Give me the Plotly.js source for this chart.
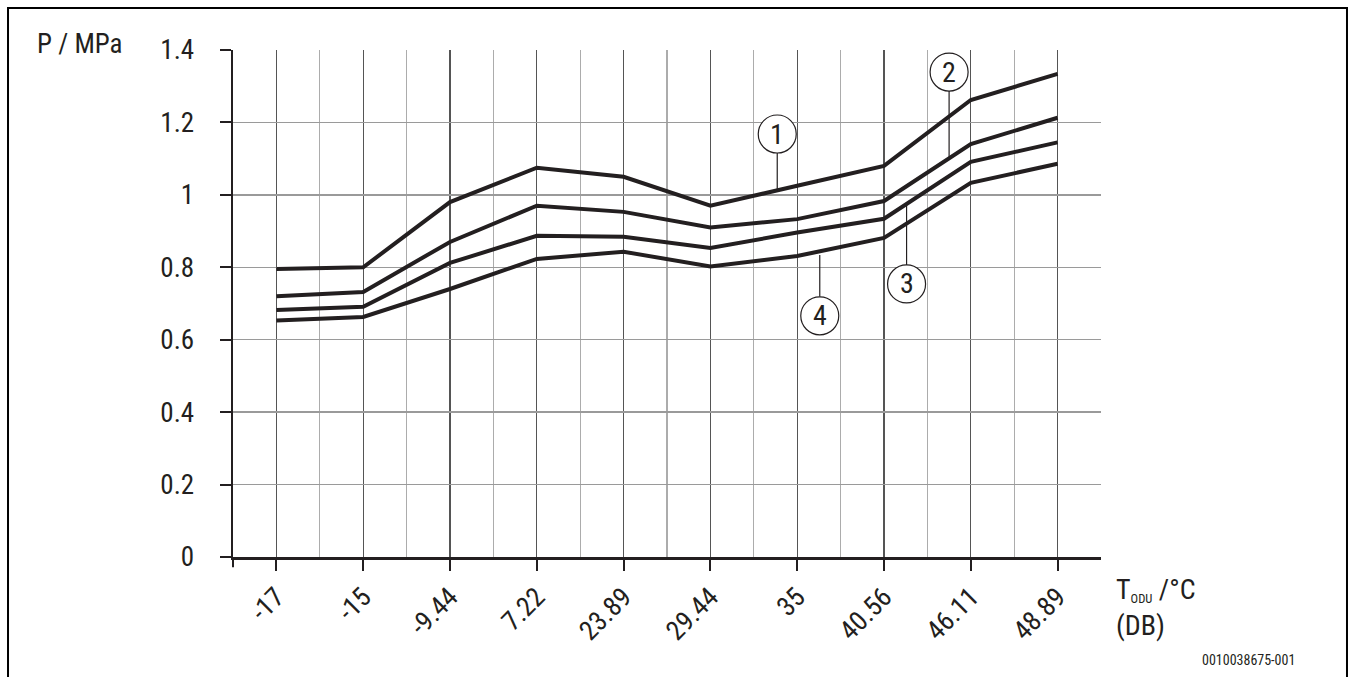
<!DOCTYPE html>
<html>
<head>
<meta charset="utf-8">
<script src="https://cdn.plot.ly/plotly-3.0.1.min.js"></script>
<style>html,body{margin:0;padding:0;background:#fff;}#chart{width:1356px;height:677px;}</style>
</head>
<body>
<div id="chart"></div>
<script>
// Outdoor temperature categories (°C, DB)
const categories = ["-17", "-15", "-9.44", "7.22", "23.89", "29.44", "35", "40.56", "46.11", "48.89"];
// Pressure curves (MPa)
const curve1 = [0.795, 0.800, 0.980, 1.075, 1.050, 0.970, 1.025, 1.080, 1.262, 1.334];
const curve2 = [0.720, 0.732, 0.870, 0.970, 0.953, 0.910, 0.933, 0.983, 1.140, 1.213];
const curve3 = [0.682, 0.691, 0.812, 0.887, 0.884, 0.853, 0.896, 0.934, 1.091, 1.145];
const curve4 = [0.653, 0.663, 0.740, 0.823, 0.843, 0.802, 0.831, 0.881, 1.033, 1.086];
const yTicks = [0, 0.2, 0.4, 0.6, 0.8, 1, 1.2, 1.4];
// Callout labels: label, x position (category index), circle centre y, leader end y
const calloutLabels = ["1", "2", "3", "4"];
const calloutX = [5.77, 7.75, 7.26, 6.26];
const calloutY = [1.168, 1.339, 0.754, 0.666];
const calloutEnd = [1.013, 1.105, 0.972, 0.834];

const FONT = "'Liberation Sans Narrow', 'Roboto Condensed', Roboto, sans-serif";
const INK = "#231f20";
const idx = categories.map((c, i) => i);

const traces = [curve1, curve2, curve3, curve4].map(v => ({
  x: idx, y: v, type: "scatter", mode: "lines",
  line: {color: INK, width: 4}, hoverinfo: "skip", showlegend: false
}));

const R = 19; // circle radius px
const shapes = [];
const annotations = [];
calloutLabels.forEach((lab, i) => {
  const above = calloutY[i] > calloutEnd[i];
  const edge = calloutY[i] + (above ? -1 : 1) * R / 362;
  shapes.push({type: "line", xref: "x", yref: "y", x0: calloutX[i], x1: calloutX[i],
    y0: edge, y1: calloutEnd[i], line: {color: INK, width: 1.2}});
  shapes.push({type: "circle", xref: "x", yref: "y", xsizemode: "pixel", ysizemode: "pixel",
    xanchor: calloutX[i], yanchor: calloutY[i], x0: -R, x1: R, y0: -R, y1: R,
    fillcolor: "#fff", line: {color: INK, width: 1.2}});
  annotations.push({xref: "x", yref: "y", x: calloutX[i], y: calloutY[i], text: lab,
    showarrow: false, font: {family: FONT, size: 28, color: INK}, xanchor: "center", yanchor: "middle"});
});
// frame
shapes.push({type: "path", xref: "paper", yref: "paper",
  path: "M -0.2592,-0.3 L -0.2592,1.0828 L 1.2834,1.0828 L 1.2834,-0.3",
  line: {color: "#000", width: 2}});
// axis overhangs
shapes.push({type: "line", xref: "paper", yref: "paper", x0: -0.0127, x1: 0, y0: 0, y1: 0, line: {color: INK, width: 2}});
shapes.push({type: "line", xref: "paper", yref: "paper", x0: 0, x1: 0, y0: -0.02, y1: 0, line: {color: INK, width: 2}});

annotations.push({xref: "paper", yref: "paper", x: -0.228, y: 1.012, xanchor: "left", yanchor: "middle",
  text: "P / MPa", showarrow: false, font: {family: FONT, size: 27, color: INK}});
annotations.push({xref: "paper", yref: "paper", x: 1.015, y: -0.1, xanchor: "left", yanchor: "middle", align: "left",
  text: "T<span style=\"font-size:18px\"><sub>ODU</sub></span> /°C<br>(DB)", showarrow: false, font: {family: FONT, size: 28, color: INK}});
annotations.push({xref: "paper", yref: "paper", x: 1.114, y: -0.203, xanchor: "left", yanchor: "middle",
  text: "0010038675-001", showarrow: false, font: {family: FONT, size: 14, color: INK}});

const layout = {
  width: 1356, height: 677,
  margin: {l: 233, r: 255, t: 50, b: 120},
  paper_bgcolor: "#fff", plot_bgcolor: "#fff",
  showlegend: false,
  xaxis: {
    range: [-0.5, 9.5], tickmode: "array", tickvals: idx, ticktext: categories,
    tickangle: -45, ticks: "outside", ticklen: 11, tickwidth: 2, tickcolor: INK,
    tickfont: {family: FONT, size: 27, color: INK},
    showgrid: true, gridcolor: "#555555", gridwidth: 1.3,
    minor: {tick0: -0.5, dtick: 1, showgrid: true, gridcolor: "#acacac", gridwidth: 1.3, ticks: ""},
    showline: true, linecolor: INK, linewidth: 2.5, zeroline: false, fixedrange: true
  },
  yaxis: {
    range: [0, 1.4], tickmode: "array", tickvals: yTicks, ticktext: yTicks.map(String),
    ticks: "outside", ticklen: 11, tickwidth: 2, tickcolor: INK, ticklabelstandoff: 20,
    tickfont: {family: FONT, size: 27, color: INK},
    showgrid: true, gridcolor: "#9a9a9a", gridwidth: 1.3,
    showline: true, linecolor: INK, linewidth: 2.5, zeroline: false, fixedrange: true
  },
  shapes: shapes,
  annotations: annotations
};

Plotly.newPlot("chart", traces, layout, {staticPlot: true, displayModeBar: false});
</script>
</body>
</html>
